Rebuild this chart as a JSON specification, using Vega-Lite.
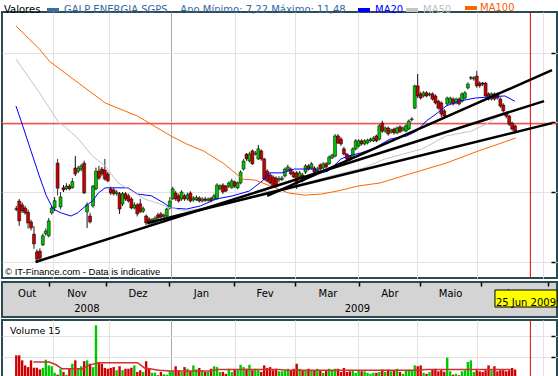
{
"$schema": "https://vega.github.io/schema/vega-lite/v6.json",
"padding": {"left": 0, "top": 2, "right": 0, "bottom": 0},
"background": "white",
"spacing": 0,
"config": {"font": "DejaVu Sans", "view": {"stroke": "#2B4A52", "strokeWidth": 2}, "axis": {"title": null},
 "legend": {"orient": "none", "legendY": -10, "direction": "horizontal", "labelFontSize": 10, "labelFont": "DejaVu Sans", "labelLimit": 400, "labelOffset": 3, "symbolType": "M-1,0L1,0", "symbolSize": 144, "symbolStrokeWidth": 4}},
"datasets": {
"candles": [
{"t":-13,"o":7.52,"h":7.6,"l":7.45,"c":7.5,"v":1.08},
{"t":-12,"o":7.74,"h":7.8,"l":7.03,"c":7.17,"v":1.08},
{"t":-11,"o":7.63,"h":7.7,"l":7.4,"c":7.46,"v":0.84},
{"t":-10,"o":7.54,"h":7.6,"l":7.35,"c":7.4,"v":0.6},
{"t":-9,"o":7.42,"h":7.5,"l":6.95,"c":7.11,"v":0.52},
{"t":-8,"o":7.14,"h":7.2,"l":6.9,"c":6.97,"v":0.84},
{"t":-7,"o":6.79,"h":7.02,"l":6.37,"c":6.51,"v":0.49},
{"t":-6,"o":6.28,"h":6.35,"l":5.96,"c":6.07,"v":0.49},
{"t":-5,"o":6.3,"h":6.38,"l":6.05,"c":6.1,"v":0.41},
{"t":-4,"o":6.48,"h":6.8,"l":6.45,"c":6.74,"v":0.48},
{"t":-3,"o":6.8,"h":6.95,"l":6.75,"c":6.88,"v":0.87},
{"t":-2,"o":6.74,"h":7.25,"l":6.7,"c":7.17,"v":0.6},
{"t":-1,"o":7.4,"h":7.6,"l":7.35,"c":7.54,"v":0.56},
{"t":0,"o":7.55,"h":7.85,"l":7.45,"c":7.75,"v":0.25},
{"t":1,"o":8.83,"h":8.95,"l":7.9,"c":8.11,"v":0.16},
{"t":2,"o":7.57,"h":8.0,"l":7.5,"c":7.86,"v":0.44},
{"t":3,"o":8.12,"h":8.2,"l":8.0,"c":8.06,"v":0.29},
{"t":4,"o":8.1,"h":8.25,"l":8.05,"c":8.17,"v":0.16},
{"t":5,"o":8.17,"h":8.22,"l":8.05,"c":8.09,"v":0.44},
{"t":6,"o":8.12,"h":8.4,"l":8.1,"c":8.3,"v":0.68},
{"t":7,"o":8.69,"h":9.03,"l":8.46,"c":8.52,"v":0.84},
{"t":8,"o":8.6,"h":8.75,"l":8.55,"c":8.69,"v":0.44},
{"t":9,"o":8.66,"h":8.8,"l":8.6,"c":8.75,"v":0.56},
{"t":10,"o":8.83,"h":8.9,"l":7.95,"c":7.97,"v":0.8},
{"t":11,"o":7.43,"h":7.7,"l":6.97,"c":7.63,"v":0.84},
{"t":12,"o":7.31,"h":7.4,"l":7.1,"c":7.14,"v":0.68},
{"t":13,"o":7.6,"h":8.2,"l":7.55,"c":8.17,"v":0.52},
{"t":14,"o":8.09,"h":8.7,"l":8.05,"c":8.6,"v":2.51},
{"t":15,"o":8.6,"h":8.75,"l":8.35,"c":8.4,"v":0.76},
{"t":16,"o":8.66,"h":8.72,"l":8.45,"c":8.52,"v":0.68},
{"t":17,"o":8.63,"h":8.95,"l":8.33,"c":8.37,"v":0.48},
{"t":18,"o":8.52,"h":8.58,"l":8.28,"c":8.32,"v":0.44},
{"t":19,"o":8.09,"h":8.15,"l":7.92,"c":7.97,"v":0.48},
{"t":20,"o":8.06,"h":8.12,"l":7.9,"c":7.95,"v":0.52},
{"t":21,"o":7.95,"h":8.05,"l":7.9,"c":8.0,"v":0.37},
{"t":22,"o":7.95,"h":8.0,"l":7.37,"c":7.51,"v":0.56},
{"t":23,"o":7.66,"h":8.0,"l":7.6,"c":7.95,"v":0.37},
{"t":24,"o":7.95,"h":8.0,"l":7.75,"c":7.8,"v":0.44},
{"t":25,"o":7.89,"h":7.95,"l":7.7,"c":7.74,"v":0.44},
{"t":26,"o":7.8,"h":7.85,"l":7.5,"c":7.54,"v":0.49},
{"t":27,"o":7.54,"h":7.7,"l":7.5,"c":7.63,"v":0.6},
{"t":28,"o":7.63,"h":7.68,"l":7.3,"c":7.37,"v":0.29},
{"t":29,"o":7.66,"h":7.8,"l":7.4,"c":7.43,"v":0.37},
{"t":30,"o":7.45,"h":7.58,"l":7.4,"c":7.52,"v":0.29},
{"t":31,"o":7.31,"h":7.35,"l":7.05,"c":7.11,"v":0.8},
{"t":32,"o":7.22,"h":7.28,"l":7.05,"c":7.11,"v":0.44},
{"t":33,"o":7.11,"h":7.25,"l":7.05,"c":7.2,"v":0.25},
{"t":34,"o":7.14,"h":7.3,"l":7.1,"c":7.25,"v":0.25},
{"t":35,"o":7.34,"h":7.4,"l":7.22,"c":7.26,"v":0.13},
{"t":36,"o":7.37,"h":7.42,"l":7.25,"c":7.28,"v":0.29},
{"t":37,"o":7.3,"h":7.38,"l":7.26,"c":7.33,"v":0.18},
{"t":38,"o":7.31,"h":7.55,"l":7.28,"c":7.51,"v":0.16},
{"t":39,"o":7.54,"h":7.85,"l":7.5,"c":7.74,"v":0.32},
{"t":40,"o":7.8,"h":8.15,"l":7.78,"c":8.09,"v":0.32},
{"t":41,"o":7.97,"h":8.03,"l":7.75,"c":7.8,"v":0.56},
{"t":42,"o":7.89,"h":7.95,"l":7.7,"c":7.74,"v":0.37},
{"t":43,"o":7.8,"h":8.05,"l":7.75,"c":8.0,"v":0.29},
{"t":44,"o":7.89,"h":7.95,"l":7.75,"c":7.8,"v":0.52},
{"t":45,"o":7.8,"h":7.98,"l":7.76,"c":7.92,"v":0.44},
{"t":46,"o":7.97,"h":8.02,"l":7.7,"c":7.74,"v":0.33},
{"t":47,"o":7.77,"h":7.88,"l":7.72,"c":7.83,"v":0.6},
{"t":48,"o":7.78,"h":7.9,"l":7.74,"c":7.84,"v":0.41},
{"t":49,"o":7.83,"h":7.88,"l":7.7,"c":7.74,"v":0.48},
{"t":50,"o":7.74,"h":7.85,"l":7.7,"c":7.8,"v":0.37},
{"t":51,"o":7.8,"h":7.86,"l":7.72,"c":7.76,"v":0.29},
{"t":52,"o":7.76,"h":7.84,"l":7.72,"c":7.8,"v":0.29},
{"t":53,"o":7.82,"h":7.86,"l":7.7,"c":7.75,"v":0.44},
{"t":54,"o":7.8,"h":7.95,"l":7.76,"c":7.89,"v":0.56},
{"t":55,"o":7.8,"h":8.25,"l":7.78,"c":8.2,"v":0.52},
{"t":56,"o":8.09,"h":8.22,"l":8.05,"c":8.17,"v":0.29},
{"t":57,"o":8.2,"h":8.25,"l":7.95,"c":8.0,"v":0.29},
{"t":58,"o":8.17,"h":8.2,"l":8.0,"c":8.03,"v":0.2},
{"t":59,"o":8.17,"h":8.3,"l":8.12,"c":8.26,"v":0.44},
{"t":60,"o":8.12,"h":8.38,"l":8.1,"c":8.32,"v":0.29},
{"t":61,"o":8.29,"h":8.33,"l":8.12,"c":8.17,"v":0.4},
{"t":62,"o":8.12,"h":8.3,"l":8.08,"c":8.26,"v":0.37},
{"t":63,"o":8.26,"h":8.62,"l":8.22,"c":8.57,"v":0.63},
{"t":64,"o":8.66,"h":8.95,"l":8.62,"c":8.89,"v":0.52},
{"t":65,"o":9.09,"h":9.12,"l":8.9,"c":8.95,"v":0.44},
{"t":66,"o":8.89,"h":9.15,"l":8.85,"c":9.09,"v":0.63},
{"t":67,"o":9.18,"h":9.22,"l":8.78,"c":8.81,"v":0.37},
{"t":68,"o":9.09,"h":9.18,"l":9.05,"c":9.12,"v":0.44},
{"t":69,"o":8.95,"h":9.35,"l":8.92,"c":9.24,"v":0.37},
{"t":70,"o":9.18,"h":9.22,"l":8.9,"c":8.95,"v":0.29},
{"t":71,"o":8.95,"h":8.98,"l":8.33,"c":8.37,"v":0.6},
{"t":72,"o":8.6,"h":8.65,"l":8.28,"c":8.32,"v":0.48},
{"t":73,"o":8.49,"h":8.55,"l":8.22,"c":8.26,"v":0.52},
{"t":74,"o":8.43,"h":8.48,"l":8.12,"c":8.17,"v":0.37},
{"t":75,"o":8.4,"h":8.45,"l":8.12,"c":8.17,"v":0.44},
{"t":76,"o":8.35,"h":8.45,"l":8.28,"c":8.38,"v":0.32},
{"t":77,"o":8.36,"h":8.46,"l":8.32,"c":8.4,"v":0.32},
{"t":78,"o":8.46,"h":8.7,"l":8.42,"c":8.66,"v":0.37},
{"t":79,"o":8.63,"h":8.78,"l":8.6,"c":8.72,"v":0.44},
{"t":80,"o":8.66,"h":8.7,"l":8.48,"c":8.52,"v":0.37},
{"t":81,"o":8.55,"h":8.6,"l":8.4,"c":8.43,"v":0.44},
{"t":82,"o":8.55,"h":8.6,"l":8.09,"c":8.26,"v":0.68},
{"t":83,"o":8.43,"h":8.6,"l":8.4,"c":8.55,"v":0.44},
{"t":84,"o":8.49,"h":8.55,"l":8.28,"c":8.32,"v":0.37},
{"t":85,"o":8.57,"h":8.8,"l":8.52,"c":8.75,"v":0.37},
{"t":86,"o":8.75,"h":8.8,"l":8.62,"c":8.66,"v":0.44},
{"t":87,"o":8.69,"h":8.86,"l":8.65,"c":8.81,"v":0.37},
{"t":88,"o":8.69,"h":8.74,"l":8.52,"c":8.57,"v":0.37},
{"t":89,"o":8.6,"h":8.72,"l":8.56,"c":8.66,"v":0.44},
{"t":90,"o":8.78,"h":8.82,"l":8.62,"c":8.66,"v":0.37},
{"t":91,"o":8.69,"h":8.86,"l":8.65,"c":8.81,"v":0.25},
{"t":92,"o":8.81,"h":8.86,"l":8.68,"c":8.72,"v":0.37},
{"t":93,"o":8.81,"h":9.05,"l":8.78,"c":9.0,"v":0.44},
{"t":94,"o":8.98,"h":9.1,"l":8.95,"c":9.05,"v":0.37},
{"t":95,"o":9.03,"h":9.66,"l":9.0,"c":9.61,"v":0.44},
{"t":96,"o":9.61,"h":9.66,"l":9.38,"c":9.41,"v":0.44},
{"t":97,"o":9.52,"h":9.58,"l":9.33,"c":9.38,"v":0.29},
{"t":98,"o":9.24,"h":9.3,"l":9.05,"c":9.09,"v":0.48},
{"t":99,"o":9.09,"h":9.12,"l":8.9,"c":8.95,"v":0.29},
{"t":100,"o":9.03,"h":9.06,"l":8.89,"c":8.95,"v":0.32},
{"t":101,"o":8.98,"h":9.28,"l":8.95,"c":9.24,"v":0.37},
{"t":102,"o":9.24,"h":9.52,"l":9.2,"c":9.47,"v":0.25},
{"t":103,"o":9.32,"h":9.52,"l":9.28,"c":9.47,"v":0.37},
{"t":104,"o":9.47,"h":9.52,"l":9.34,"c":9.38,"v":0.32},
{"t":105,"o":9.38,"h":9.52,"l":9.34,"c":9.47,"v":0.32},
{"t":106,"o":9.41,"h":9.53,"l":9.37,"c":9.49,"v":0.25},
{"t":107,"o":9.47,"h":9.56,"l":9.43,"c":9.52,"v":0.2},
{"t":108,"o":9.47,"h":9.6,"l":9.44,"c":9.55,"v":0.25},
{"t":109,"o":9.61,"h":9.65,"l":9.43,"c":9.47,"v":0.25},
{"t":110,"o":9.52,"h":9.95,"l":9.48,"c":9.9,"v":0.29},
{"t":111,"o":9.98,"h":10.05,"l":9.7,"c":9.75,"v":0.4},
{"t":112,"o":9.75,"h":9.88,"l":9.7,"c":9.84,"v":0.29},
{"t":113,"o":9.84,"h":9.88,"l":9.62,"c":9.67,"v":0.4},
{"t":114,"o":9.72,"h":9.82,"l":9.68,"c":9.78,"v":0.32},
{"t":115,"o":9.81,"h":9.85,"l":9.65,"c":9.7,"v":0.37},
{"t":116,"o":9.7,"h":9.88,"l":9.66,"c":9.84,"v":0.44},
{"t":117,"o":9.87,"h":9.92,"l":9.7,"c":9.73,"v":0.29},
{"t":118,"o":9.78,"h":9.88,"l":9.74,"c":9.84,"v":0.2},
{"t":119,"o":9.75,"h":9.94,"l":9.72,"c":9.9,"v":0.37},
{"t":120,"o":9.81,"h":10.08,"l":9.78,"c":10.04,"v":0.4},
{"t":121,"o":10.08,"h":10.15,"l":10.03,"c":10.1,"v":0.37},
{"t":122,"o":10.41,"h":11.08,"l":10.38,"c":11.05,"v":0.6},
{"t":123,"o":11.05,"h":11.39,"l":10.7,"c":10.76,"v":0.56},
{"t":124,"o":10.82,"h":10.88,"l":10.66,"c":10.7,"v":0.6},
{"t":125,"o":10.76,"h":10.9,"l":10.72,"c":10.85,"v":0.25},
{"t":126,"o":10.85,"h":10.9,"l":10.72,"c":10.76,"v":0.2},
{"t":127,"o":10.79,"h":10.86,"l":10.75,"c":10.82,"v":0.29},
{"t":128,"o":10.82,"h":10.86,"l":10.63,"c":10.67,"v":0.4},
{"t":129,"o":10.76,"h":10.8,"l":10.52,"c":10.56,"v":0.44},
{"t":130,"o":10.61,"h":10.65,"l":10.37,"c":10.41,"v":0.32},
{"t":131,"o":10.56,"h":10.6,"l":10.15,"c":10.24,"v":0.37},
{"t":132,"o":10.33,"h":10.38,"l":10.1,"c":10.18,"v":0.3},
{"t":133,"o":10.53,"h":10.74,"l":10.49,"c":10.7,"v":0.97},
{"t":134,"o":10.56,"h":10.74,"l":10.52,"c":10.7,"v":0.32},
{"t":135,"o":10.67,"h":10.72,"l":10.49,"c":10.53,"v":0.16},
{"t":136,"o":10.56,"h":10.71,"l":10.52,"c":10.67,"v":0.2},
{"t":137,"o":10.67,"h":10.72,"l":10.49,"c":10.53,"v":0.13},
{"t":138,"o":10.61,"h":10.86,"l":10.57,"c":10.82,"v":0.32},
{"t":139,"o":10.7,"h":10.9,"l":10.66,"c":10.85,"v":0.37},
{"t":140,"o":10.99,"h":11.15,"l":10.95,"c":11.1,"v":0.76},
{"t":141,"o":11.27,"h":11.33,"l":11.22,"c":11.29,"v":0.84},
{"t":142,"o":11.25,"h":11.33,"l":11.2,"c":11.28,"v":0.29},
{"t":143,"o":11.33,"h":11.48,"l":11.0,"c":11.05,"v":0.37},
{"t":144,"o":11.13,"h":11.18,"l":11.0,"c":11.05,"v":0.32},
{"t":145,"o":11.13,"h":11.16,"l":11.05,"c":11.1,"v":0.29},
{"t":146,"o":11.13,"h":11.16,"l":10.72,"c":10.76,"v":0.37},
{"t":147,"o":10.82,"h":10.86,"l":10.63,"c":10.67,"v":0.6},
{"t":148,"o":10.67,"h":10.86,"l":10.63,"c":10.82,"v":0.37},
{"t":149,"o":10.82,"h":10.86,"l":10.63,"c":10.67,"v":0.56},
{"t":150,"o":10.82,"h":10.86,"l":10.66,"c":10.7,"v":0.32},
{"t":151,"o":10.67,"h":10.72,"l":10.42,"c":10.47,"v":0.37},
{"t":152,"o":10.5,"h":10.55,"l":10.28,"c":10.33,"v":0.37},
{"t":153,"o":10.27,"h":10.31,"l":10.12,"c":10.18,"v":0.32},
{"t":154,"o":10.18,"h":10.22,"l":9.9,"c":9.95,"v":0.37},
{"t":155,"o":9.98,"h":10.02,"l":9.76,"c":9.81,"v":0.48},
{"t":156,"o":9.9,"h":9.94,"l":9.68,"c":9.75,"v":0.41}
],
"ma": [
{"s":"MA20","t":-13.1,"p":10.47},{"s":"MA20","t":-10.8,"p":9.9},{"s":"MA20","t":-8.8,"p":9.38},{"s":"MA20","t":-5.2,"p":8.46},{"s":"MA20","t":-2.8,"p":7.89},{"s":"MA20","t":-0.5,"p":7.51},{"s":"MA20","t":2.2,"p":7.4},{"s":"MA20","t":5.5,"p":7.31},{"s":"MA20","t":7.8,"p":7.4},{"s":"MA20","t":10.5,"p":7.6},{"s":"MA20","t":12.8,"p":7.74},{"s":"MA20","t":14.8,"p":7.97},{"s":"MA20","t":17.1,"p":8.12},{"s":"MA20","t":20.5,"p":8.12},{"s":"MA20","t":24.8,"p":8.12},{"s":"MA20","t":28.1,"p":7.94},{"s":"MA20","t":32.8,"p":7.89},{"s":"MA20","t":37.1,"p":7.68},{"s":"MA20","t":39.4,"p":7.54},{"s":"MA20","t":44.7,"p":7.51},{"s":"MA20","t":49.4,"p":7.6},{"s":"MA20","t":54.7,"p":7.8},{"s":"MA20","t":60.4,"p":7.89},{"s":"MA20","t":66.0,"p":8.03},{"s":"MA20","t":70.4,"p":8.32},{"s":"MA20","t":72.7,"p":8.55},{"s":"MA20","t":77.0,"p":8.55},{"s":"MA20","t":81.3,"p":8.66},{"s":"MA20","t":88.0,"p":8.66},{"s":"MA20","t":90.3,"p":8.55},{"s":"MA20","t":92.6,"p":8.6},{"s":"MA20","t":94.6,"p":8.75},{"s":"MA20","t":97.0,"p":8.95},{"s":"MA20","t":99.3,"p":9.03},{"s":"MA20","t":103.6,"p":9.12},{"s":"MA20","t":107.9,"p":9.24},{"s":"MA20","t":113.6,"p":9.52},{"s":"MA20","t":119.3,"p":9.61},{"s":"MA20","t":122.6,"p":9.75},{"s":"MA20","t":125.9,"p":10.04},{"s":"MA20","t":129.2,"p":10.24},{"s":"MA20","t":132.6,"p":10.47},{"s":"MA20","t":136.9,"p":10.61},{"s":"MA20","t":142.5,"p":10.7},{"s":"MA20","t":146.9,"p":10.73},{"s":"MA20","t":152.5,"p":10.76},{"s":"MA20","t":155.9,"p":10.61},
{"s":"MA50","t":-13.1,"p":11.82},{"s":"MA50","t":-5.2,"p":10.86},{"s":"MA50","t":1.5,"p":9.98},{"s":"MA50","t":3.2,"p":9.9},{"s":"MA50","t":8.1,"p":9.52},{"s":"MA50","t":12.8,"p":9.03},{"s":"MA50","t":17.1,"p":8.75},{"s":"MA50","t":21.5,"p":8.26},{"s":"MA50","t":26.1,"p":8.03},{"s":"MA50","t":30.4,"p":7.8},{"s":"MA50","t":34.8,"p":7.68},{"s":"MA50","t":39.4,"p":7.54},{"s":"MA50","t":44.7,"p":7.45},{"s":"MA50","t":57.1,"p":7.66},{"s":"MA50","t":69.4,"p":8.0},{"s":"MA50","t":77.0,"p":8.05},{"s":"MA50","t":81.3,"p":8.17},{"s":"MA50","t":93.6,"p":8.46},{"s":"MA50","t":104.6,"p":8.69},{"s":"MA50","t":111.9,"p":8.95},{"s":"MA50","t":124.6,"p":9.24},{"s":"MA50","t":132.6,"p":9.61},{"s":"MA50","t":141.2,"p":9.75},{"s":"MA50","t":146.9,"p":9.98},{"s":"MA50","t":151.2,"p":10.24},{"s":"MA50","t":155.9,"p":10.33},
{"s":"MA100","t":-13.1,"p":12.77},{"s":"MA100","t":-5.2,"p":12.11},{"s":"MA100","t":-1.8,"p":11.76},{"s":"MA100","t":6.2,"p":11.25},{"s":"MA100","t":17.1,"p":10.56},{"s":"MA100","t":28.1,"p":10.18},{"s":"MA100","t":39.4,"p":9.61},{"s":"MA100","t":44.7,"p":9.38},{"s":"MA100","t":50.4,"p":9.18},{"s":"MA100","t":57.1,"p":8.83},{"s":"MA100","t":63.7,"p":8.37},{"s":"MA100","t":68.0,"p":8.34},{"s":"MA100","t":74.7,"p":8.12},{"s":"MA100","t":79.3,"p":7.97},{"s":"MA100","t":84.7,"p":7.91},{"s":"MA100","t":90.3,"p":7.94},{"s":"MA100","t":96.0,"p":8.03},{"s":"MA100","t":102.6,"p":8.17},{"s":"MA100","t":110.3,"p":8.26},{"s":"MA100","t":120.3,"p":8.52},{"s":"MA100","t":132.6,"p":8.83},{"s":"MA100","t":143.6,"p":9.18},{"s":"MA100","t":152.5,"p":9.44},{"s":"MA100","t":156.2,"p":9.55}
],
"trend": [
{"id":"A","t":72.0,"p":7.89},{"id":"A","t":168.5,"p":11.5},
{"id":"B","t":-6.5,"p":5.99},{"id":"B","t":165.8,"p":10.61},
{"id":"C","t":31.4,"p":7.11},{"id":"C","t":168.5,"p":9.98}
],
"vma": [
{"t":-7.2,"v":0.76},{"t":-1.8,"v":0.76},{"t":0.5,"v":0.63},{"t":2.5,"v":0.44},{"t":9.5,"v":0.44},{"t":11.5,"v":0.6},{"t":14.8,"v":0.73},{"t":28.1,"v":0.73},{"t":30.4,"v":0.48},{"t":35.4,"v":0.37},{"t":39.4,"v":0.33},{"t":52.7,"v":0.33},{"t":55.4,"v":0.4},{"t":76.0,"v":0.4},{"t":78.7,"v":0.37},{"t":121.3,"v":0.37},{"t":125.9,"v":0.4},{"t":154.5,"v":0.4}
],
"months": [
{"label":"Out","t":-7.8,"row":"month"},{"label":"Nov","t":8.8,"row":"month"},{"label":"Dez","t":29.1,"row":"month"},{"label":"Jan","t":50.2,"row":"month"},{"label":"Fev","t":71.4,"row":"month"},{"label":"Mar","t":92.3,"row":"month"},{"label":"Abr","t":112.9,"row":"month"},{"label":"Maio","t":133.1,"row":"month"},{"label":"Jun","t":154.5,"row":"month"},
{"label":"2008","t":12.1,"row":"year"},{"label":"2009","t":102.1,"row":"year"}
],
"cursor": [{"t":161.17,"p":9.96,"label":"25 Jun 2009"}],
"vlabel": [{"label":"Volume 15"}]
},
"vconcat": [
{
"width": 555, "height": 266,
"title": {"text": "© IT-Finance.com - Data is indicative", "orient": "bottom", "anchor": "start", "frame": "group", "offset": -4, "dx": 3, "baseline": "alphabetic", "fontSize": 9.5, "fontWeight": "normal", "font": "Liberation Sans", "color": "#000000"},
"layer": [
{"data": {"name": "cursor"}, "mark": {"type": "rule", "color": "#FF0000", "strokeWidth": 1},
 "encoding": {"y": {"field": "p", "type": "quantitative", "scale": {"domain": [5.529, 13.172], "nice": false, "zero": false}}}},
{"data": {"name": "cursor"}, "mark": {"type": "rule", "color": "#E00000", "strokeWidth": 1},
 "encoding": {"x": {"field": "t", "type": "quantitative", "scale": {"domain": [-16.14, 168.5], "nice": false, "zero": false}}}},
{"data": {"name": "candles"}, "mark": {"type": "rule", "color": "#000000", "strokeWidth": 1},
 "encoding": {
  "x": {"field": "t", "type": "quantitative", "scale": {"domain": [-16.14, 168.5], "nice": false, "zero": false},
        "axis": {"orient": "bottom", "values": [-0.5, 18.46, 39.42, 61.04, 81.34, 102.63, 122.92, 143.21, 165.5], "grid": true, "gridColor": {"condition": {"test": "datum.value > 39 && datum.value < 40", "value": "#A8A8A8"}, "value": "#E2E2E2"}, "ticks": false, "labels": false, "domain": false, "title": null, "minExtent": 0, "maxExtent": 0}},
  "y": {"field": "l", "type": "quantitative", "scale": {"domain": [5.529, 13.172], "nice": false, "zero": false},
        "axis": {"orient": "right", "values": [6, 7, 8, 9, 10, 11, 12, 13], "grid": true, "gridColor": "#E2E2E2", "gridOpacity": {"condition": {"test": "datum.value % 2 == 0", "value": 1}, "value": 0}, "ticks": true, "tickSize": 4, "tickColor": "#000000", "tickWidth": 1.5, "labels": false, "domain": false, "title": null, "offset": -6, "minExtent": 0, "maxExtent": 0}},
  "y2": {"field": "h"},
  "strokeDash": {"datum": "GALP", "type": "nominal", "scale": {"domain": ["GALP"], "range": [[1, 0]]},
   "legend": {"legendX": 2, "title": "Valores", "titleOrient": "left", "titleFontSize": 10, "titleFontWeight": "normal", "titleColor": "#000000", "titlePadding": 4, "titleFont": "DejaVu Sans",
     "labelColor": "#35679C",
     "labelExpr": "'GALP ENERGIA SGPS\u00a0\u00a0\u00a0\u00a0Ano Mínimo: 7,22 Máximo: 11,48'",
     "symbolStrokeColor": "#3B6CA6"}}
 }},
{"data": {"name": "candles"}, "mark": {"type": "bar", "size": 3, "stroke": "#000000", "strokeWidth": 0.5},
 "encoding": {
  "x": {"field": "t", "type": "quantitative", "scale": {"domain": [-16.14, 168.5], "nice": false, "zero": false}},
  "y": {"field": "o", "type": "quantitative", "scale": {"domain": [5.529, 13.172], "nice": false, "zero": false}},
  "y2": {"field": "c"},
  "fill": {"condition": {"test": "datum.c >= datum.o", "value": "#00C000"}, "value": "#C80000"}
 }},
{"data": {"name": "ma"}, "transform": [{"filter": "datum.s == 'MA20'"}], "mark": {"type": "line", "strokeWidth": 1},
 "encoding": {
  "x": {"field": "t", "type": "quantitative", "scale": {"domain": [-16.14, 168.5], "nice": false, "zero": false}},
  "y": {"field": "p", "type": "quantitative", "scale": {"domain": [5.529, 13.172], "nice": false, "zero": false}},
  "color": {"datum": "MA20", "type": "nominal", "scale": {"domain": ["MA20"], "range": ["#0000FF"]},
   "legend": {"legendX": 354, "title": null, "labelColor": "#0000FF", "symbolStrokeColor": "#0000FF"}}
 }},
{"data": {"name": "ma"}, "transform": [{"filter": "datum.s == 'MA50'"}], "mark": {"type": "line", "strokeWidth": 1},
 "encoding": {
  "x": {"field": "t", "type": "quantitative", "scale": {"domain": [-16.14, 168.5], "nice": false, "zero": false}},
  "y": {"field": "p", "type": "quantitative", "scale": {"domain": [5.529, 13.172], "nice": false, "zero": false}},
  "stroke": {"datum": "MA50", "type": "nominal", "scale": {"domain": ["MA50"], "range": ["#C4C4C4"]},
   "legend": {"legendX": 402, "title": null, "labelColor": "#C0C0C0", "symbolStrokeColor": "#C4C4C4"}}
 }},
{"data": {"name": "ma"}, "transform": [{"filter": "datum.s == 'MA100'"}], "mark": {"type": "line", "strokeWidth": 1, "color": "#FF6600"},
 "encoding": {
  "x": {"field": "t", "type": "quantitative", "scale": {"domain": [-16.14, 168.5], "nice": false, "zero": false}},
  "y": {"field": "p", "type": "quantitative", "scale": {"domain": [5.529, 13.172], "nice": false, "zero": false}}
 }},
{"data": {"name": "cursor"}, "transform": [{"filter": "datum.t > 1000"}], "mark": {"type": "square", "filled": true},
 "encoding": {
  "x": {"field": "t", "type": "quantitative", "scale": {"domain": [-16.14, 168.5], "nice": false, "zero": false}},
  "y": {"field": "p", "type": "quantitative", "scale": {"domain": [5.529, 13.172], "nice": false, "zero": false}},
  "fill": {"datum": "MA100", "type": "nominal", "scale": {"domain": ["MA100"], "range": ["#FF6600"]},
   "legend": {"legendX": 463, "title": null, "labelColor": "#FF5A00", "symbolType": "M-1,-0.33L1,-0.33L1,0.33L-1,0.33Z", "symbolFillColor": "#FF6600", "symbolStrokeWidth": 0, "symbolOpacity": 1}}
 }},
{"data": {"name": "trend"}, "mark": {"type": "line", "color": "#000000", "strokeWidth": 2.5, "clip": true},
 "encoding": {
  "x": {"field": "t", "type": "quantitative", "scale": {"domain": [-16.14, 168.5], "nice": false, "zero": false}},
  "y": {"field": "p", "type": "quantitative", "scale": {"domain": [5.529, 13.172], "nice": false, "zero": false}},
  "detail": {"field": "id"}
 }}
]
},
{
"width": 555, "height": 35,
"view": {"fill": "#D4D4D4", "stroke": "#2B4A52", "strokeWidth": 2},
"layer": [
{"data": {"name": "months"}, "mark": {"type": "text", "fontSize": 10, "baseline": "alphabetic", "align": "center", "color": "#000000"},
 "encoding": {
  "x": {"field": "t", "type": "quantitative", "scale": {"domain": [-16.14, 168.5], "nice": false, "zero": false},
        "axis": {"orient": "top", "values": [-0.5, 18.46, 39.42, 61.04, 81.34, 102.63, 122.92, 143.21, 165.5], "ticks": true, "tickSize": 4, "tickColor": "#000000", "tickWidth": 1.5, "labels": false, "domain": false, "grid": false, "title": null, "offset": -4}},
  "y": {"field": "row", "type": "nominal", "scale": {"type": "point", "domain": ["month", "year"], "range": [15, 29.7], "padding": 0}, "axis": null},
  "text": {"field": "label"}
 }},
{"data": {"name": "cursor"}, "mark": {"type": "rect", "width": 62, "height": 17, "xOffset": -9, "yOffset": -13.2, "fill": "#FFFF00", "stroke": "#000000", "strokeWidth": 1},
 "encoding": {
  "x": {"field": "t", "type": "quantitative", "scale": {"domain": [-16.14, 168.5], "nice": false, "zero": false}},
  "y": {"datum": "year", "type": "nominal"}
 }},
{"data": {"name": "cursor"}, "mark": {"type": "text", "fontSize": 10, "baseline": "alphabetic", "align": "center", "xOffset": -9, "yOffset": -5.5, "color": "#000000"},
 "encoding": {
  "x": {"field": "t", "type": "quantitative", "scale": {"domain": [-16.14, 168.5], "nice": false, "zero": false}},
  "y": {"datum": "year", "type": "nominal"},
  "text": {"field": "label"}
 }}
]
},
{
"width": 555, "height": 58,
"layer": [
{"data": {"name": "candles"}, "mark": {"type": "bar", "size": 2.4},
 "encoding": {
  "x": {"field": "t", "type": "quantitative", "scale": {"domain": [-16.14, 168.5], "nice": false, "zero": false},
        "axis": {"orient": "bottom", "values": [-0.5, 18.46, 39.42, 61.04, 81.34, 102.63, 122.92, 143.21, 165.5], "grid": true, "gridColor": {"condition": {"test": "datum.value > 39 && datum.value < 40", "value": "#A8A8A8"}, "value": "#E2E2E2"}, "ticks": false, "labels": false, "domain": false, "title": null, "minExtent": 0, "maxExtent": 0}},
  "y": {"field": "v", "type": "quantitative", "scale": {"domain": [0, 2.762], "nice": false, "zero": false},
        "axis": {"orient": "right", "values": [1, 2], "grid": true, "gridColor": "#E2E2E2", "ticks": true, "tickSize": 4, "tickColor": "#000000", "tickWidth": 1.5, "labels": false, "domain": false, "title": null, "offset": -6, "minExtent": 0, "maxExtent": 0}},
  "color": {"condition": {"test": "datum.c >= datum.o", "value": "#00C800"}, "value": "#D00000"}
 }},
{"data": {"name": "vma"}, "mark": {"type": "line", "color": "#D03030", "strokeWidth": 1.5},
 "encoding": {
  "x": {"field": "t", "type": "quantitative", "scale": {"domain": [-16.14, 168.5], "nice": false, "zero": false}},
  "y": {"field": "v", "type": "quantitative", "scale": {"domain": [0, 2.762], "nice": false, "zero": false}}
 }},
{"data": {"name": "cursor"}, "mark": {"type": "rule", "color": "#E00000", "strokeWidth": 1},
 "encoding": {"x": {"field": "t", "type": "quantitative", "scale": {"domain": [-16.14, 168.5], "nice": false, "zero": false}}}},
{"data": {"name": "vlabel"}, "mark": {"type": "text", "align": "left", "baseline": "alphabetic", "dx": 3, "dy": 14, "fontSize": 9.5, "color": "#000000"},
 "encoding": {
  "x": {"datum": -16.14, "type": "quantitative", "scale": {"domain": [-16.14, 168.5], "nice": false, "zero": false}},
  "y": {"datum": 2.762, "type": "quantitative", "scale": {"domain": [0, 2.762], "nice": false, "zero": false}},
  "text": {"field": "label"}
 }}
]
}
]
}
